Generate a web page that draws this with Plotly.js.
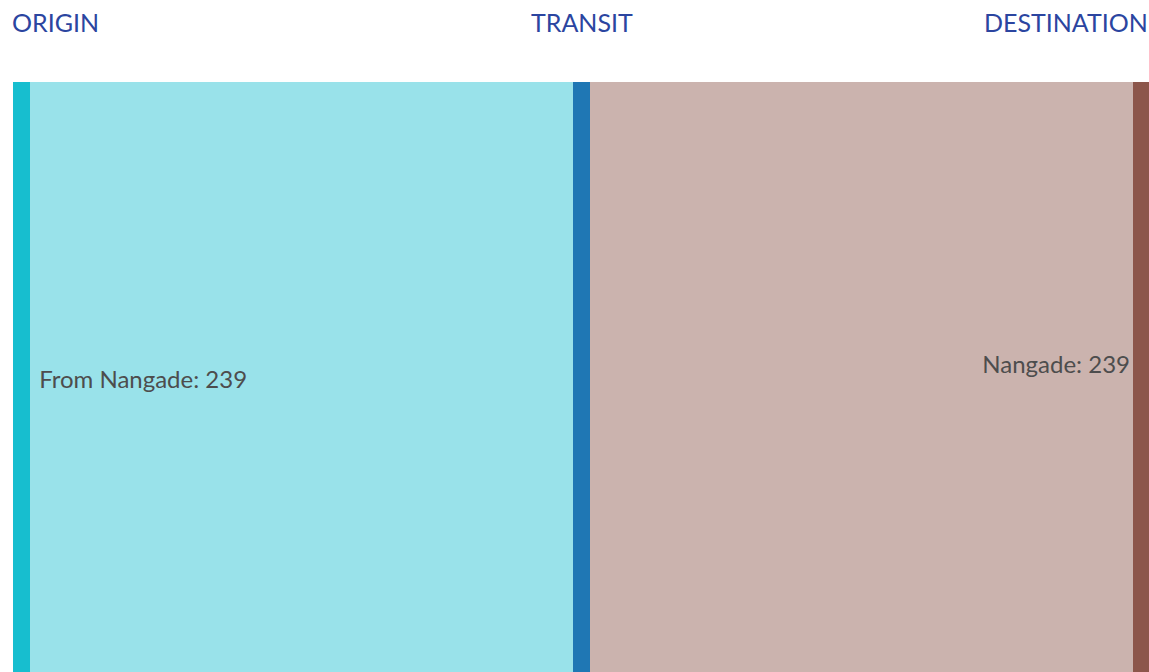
<!DOCTYPE html>
<html>
<head>
<meta charset="utf-8">
<script src="https://cdn.plot.ly/plotly-3.0.1.min.js"></script>
<style>
html, body { margin: 0; padding: 0; overflow: hidden; background: #fff; }
#chart { width: 1163px; height: 700px; }
</style>
</head>
<body>
<div id="chart"></div>
<script>
// ---- data ----
const nodeLabels = ["\u00a0From Nangade: 239", "", "Nangade: 239<br> "];
const linkSource = [0, 1];
const linkTarget = [1, 2];
const linkValues = [239, 239];
const columnHeadings = ["ORIGIN", "TRANSIT", "DESTINATION"];

// ---- styles ----
const nodeColors = ["#17becf", "#1f77b4", "#8c564b"];
const linkColors = ["rgba(23,190,207,0.44)", "rgba(140,86,75,0.45)"];
const fontFamily = "'Gill Sans', 'Gill Sans MT', Lato, sans-serif";

const trace = {
  type: "sankey",
  orientation: "h",
  arrangement: "fixed",
  node: {
    label: nodeLabels,
    color: nodeColors,
    thickness: 17,
    pad: 10,
    line: { width: 0 }
  },
  link: {
    source: linkSource,
    target: linkTarget,
    value: linkValues,
    color: linkColors
  },
  textfont: { family: fontFamily, size: 24, color: "#4d4d4d", shadow: "none" }
};

const anchors = ["left", "center", "right"];
const xs = [0, 0.5, 1];
const annotations = columnHeadings.map((t, i) => ({
  text: t,
  xref: "paper", yref: "paper",
  x: xs[i], y: 1,
  xanchor: anchors[i], yanchor: "middle",
  yshift: 60,
  xshift: i === 0 ? -3 : 0,
  showarrow: false,
  font: { family: fontFamily, size: 25, color: "#2b45a0" }
}));

const layout = {
  width: 1163,
  height: 700,
  margin: { l: 13, r: 13, t: 82, b: 22 },
  paper_bgcolor: "#ffffff",
  font: { family: fontFamily },
  annotations: annotations
};

Plotly.newPlot("chart", [trace], layout, { displayModeBar: false });
</script>
</body>
</html>
